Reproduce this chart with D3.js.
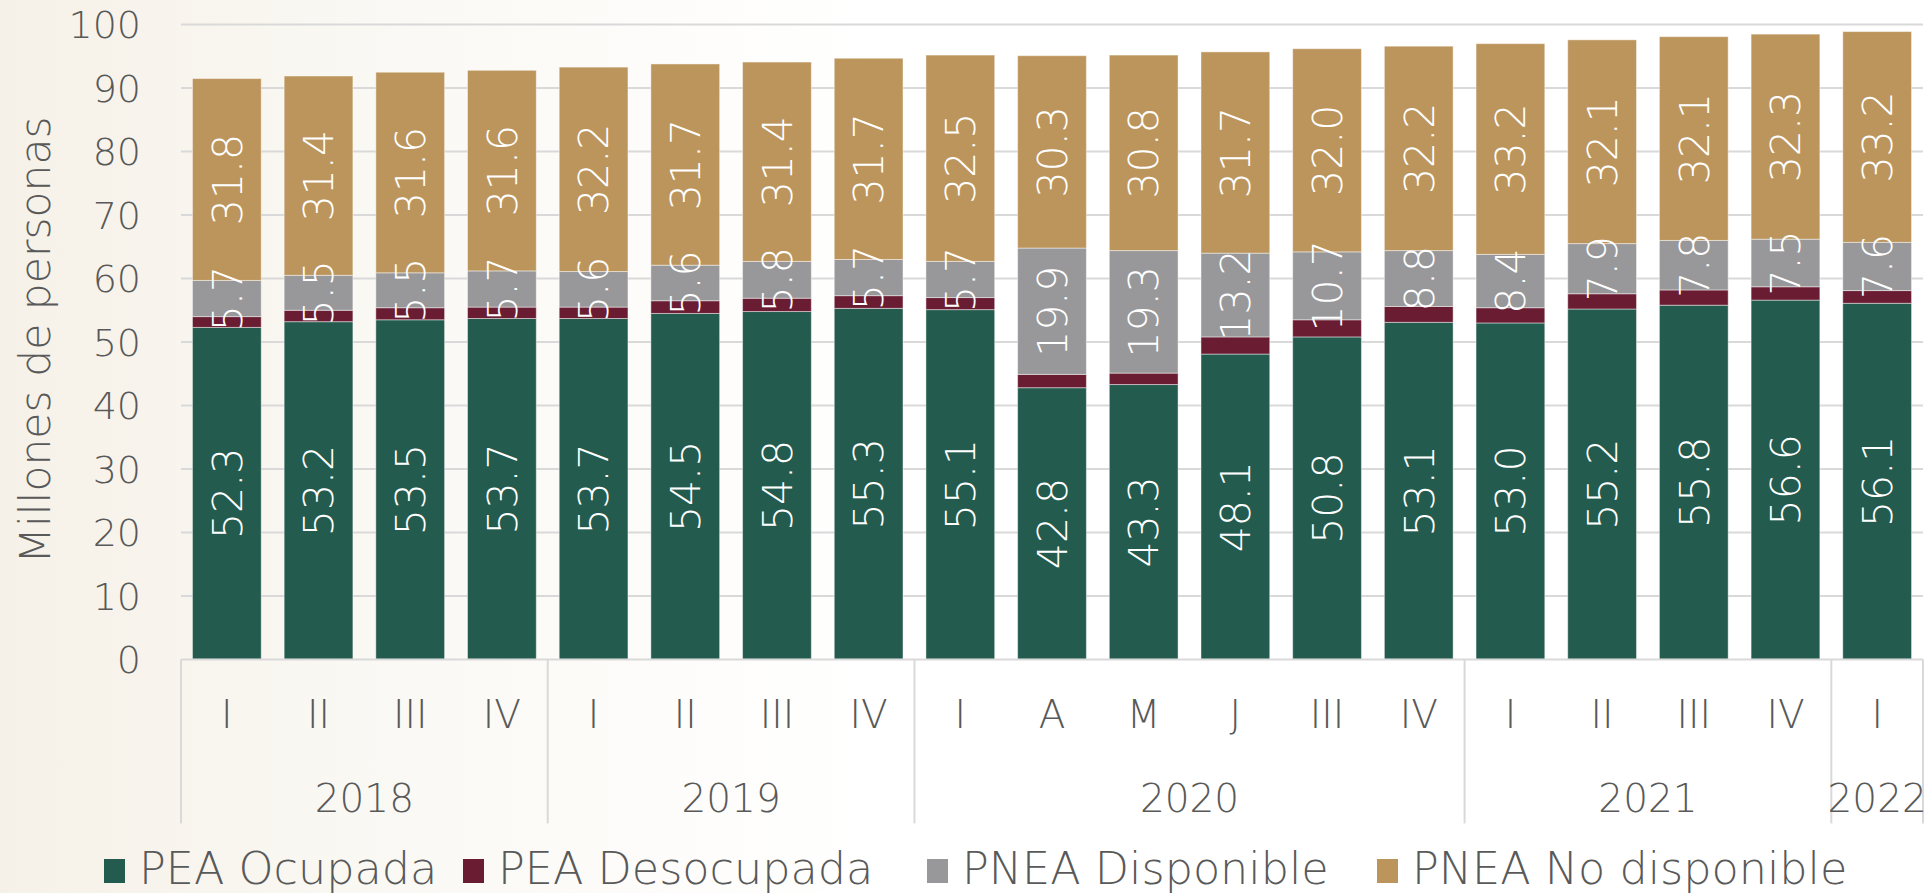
<!DOCTYPE html>
<html>
<head>
<meta charset="utf-8">
<script src="https://cdnjs.cloudflare.com/ajax/libs/d3/7.8.5/d3.min.js"></script>
<style>
    html, body { margin: 0; padding: 0; }
    body {
        width: 1929px; height: 893px; overflow: hidden;
        background: linear-gradient(90deg, #f6f1e8 0%, #faf8f3 18%, #ffffff 45%, #ffffff 100%);
        font-family: "DejaVu Sans", sans-serif;
    }
    .grid line { stroke: #d9d9d9; stroke-width: 2; }
    .tick-label { fill: #595959; font-weight: 300; }
    .bar-label { fill: #ffffff; font-weight: 300; }
    .sep-line { stroke: #d9d9d9; stroke-width: 2; }
</style>
</head>
<body>
<div id="chart"></div>
<script>

// Categories (quarters / months) and year groups
var periods = ["I","II","III","IV","I","II","III","IV","I","A","M","J","III","IV","I","II","III","IV","I"];
var years = ["2018","2019","2020","2021","2022"];
var yearCounts = [4, 4, 6, 4, 1];

// Series values, millions of people
var ocupada = [52.3,53.2,53.5,53.7,53.7,54.5,54.8,55.3,55.1,42.8,43.3,48.1,50.8,53.1,53.0,55.2,55.8,56.6,56.1];
var desocupada = [1.7,1.8,1.9,1.8,1.8,2.0,2.1,2.0,1.9,2.1,1.8,2.7,2.7,2.5,2.4,2.4,2.4,2.1,2.0];
var disponible = [5.7,5.5,5.5,5.7,5.6,5.6,5.8,5.7,5.7,19.9,19.3,13.2,10.7,8.8,8.4,7.9,7.8,7.5,7.6];
var noDisponible = [31.8,31.4,31.6,31.6,32.2,31.7,31.4,31.7,32.5,30.3,30.8,31.7,32.0,32.2,33.2,32.1,32.1,32.3,33.2];

var seriesNames = ["PEA Ocupada", "PEA Desocupada", "PNEA Disponible", "PNEA No disponible"];
var yTicks = [0,10,20,30,40,50,60,70,80,90,100];


StackedChart = function(_parentElement) {
    this.parentElement = _parentElement;
    this.keys = ["ocupada", "desocupada", "disponible", "noDisponible"];
    this.colors = ["#235b4e", "#691c32", "#98989a", "#bc955c"];
    this.labelled = [true, false, true, true];
    this.initVis();
};


StackedChart.prototype.initVis = function() {
    var vis = this;

    vis.margin = {top: 24.6, right: 6, bottom: 233.6, left: 181};
    vis.width = 1929 - vis.margin.left - vis.margin.right;
    vis.height = 893 - vis.margin.top - vis.margin.bottom;

    vis.svg = d3.select("#" + vis.parentElement).append("svg")
        .attr("width", 1929)
        .attr("height", 893)
        .append("g")
        .attr("transform", "translate(" + vis.margin.left + "," + vis.margin.top + ")");

    vis.x = d3.scaleBand()
        .domain(d3.range(periods.length))
        .range([0, vis.width])
        .paddingInner(0.25)
        .paddingOuter(0.125);
    vis.y = d3.scaleLinear()
        .domain([0, 100])
        .range([vis.height, 0]);

    vis.wrangleData();
};


StackedChart.prototype.wrangleData = function() {
    var vis = this;

    // build a table from the named arrays
    vis.data = periods.map(function(p, i) {
        return {
            i: i,
            ocupada: ocupada[i],
            desocupada: desocupada[i],
            disponible: disponible[i],
            noDisponible: noDisponible[i]
        };
    });

    vis.stacked = d3.stack().keys(vis.keys)(vis.data);

    vis.updateVis();
};


StackedChart.prototype.updateVis = function() {
    var vis = this;

    // gridlines
    vis.svg.append("g")
        .attr("class", "grid")
        .selectAll("line")
        .data(yTicks.slice(1))
        .enter().append("line")
        .attr("x1", 0)
        .attr("x2", vis.width)
        .attr("y1", function(d) { return vis.y(d); })
        .attr("y2", function(d) { return vis.y(d); });

    // y tick labels
    vis.svg.append("g").selectAll("text")
        .data(yTicks)
        .enter().append("text")
        .attr("class", "tick-label")
        .attr("x", -40)
        .attr("y", function(d) { return vis.y(d); })
        .attr("dy", "0.36em")
        .attr("text-anchor", "end")
        .style("font-size", "38px")
        .text(function(d) { return d; });

    // y axis title
    vis.svg.append("text")
        .attr("class", "tick-label")
        .attr("transform", "translate(" + (50 - vis.margin.left) + "," + (340 - vis.margin.top) + ") rotate(-90)")
        .attr("text-anchor", "middle")
        .style("font-size", "42.5px")
        .text("Millones de personas");

    // bars
    var layers = vis.svg.selectAll(".layer")
        .data(vis.stacked)
        .enter().append("g")
        .attr("class", "layer")
        .attr("fill", function(d, k) { return vis.colors[k]; });

    layers.selectAll("rect")
        .data(function(d) { return d; })
        .enter().append("rect")
        .attr("x", function(d) { return vis.x(d.data.i); })
        .attr("y", function(d) { return vis.y(d[1]); })
        .attr("width", vis.x.bandwidth())
        .attr("height", function(d) { return vis.y(d[0]) - vis.y(d[1]); })
        .attr("stroke", "#ffffff")
        .attr("stroke-opacity", 0.45)
        .attr("stroke-width", 1);

    // data labels (rotated, centred in each segment)
    vis.stacked.forEach(function(layer, k) {
        if (!vis.labelled[k]) return;
        vis.svg.append("g").selectAll("text")
            .data(layer)
            .enter().append("text")
            .attr("class", "bar-label")
            .attr("transform", function(d) {
                var cx = vis.x(d.data.i) + vis.x.bandwidth() / 2;
                var cy = vis.y((d[0] + d[1]) / 2);
                return "translate(" + cx + "," + cy + ") rotate(-90)";
            })
            .attr("text-anchor", "middle")
            .attr("dy", "0.36em")
            .style("font-size", "41px")
            .text(function(d) { return d3.format(".1f")(d[1] - d[0]); });
    });

    // x axis line
    vis.svg.append("line")
        .attr("class", "sep-line")
        .attr("x1", 0).attr("x2", vis.width)
        .attr("y1", vis.height).attr("y2", vis.height);

    // period labels
    vis.svg.append("g").selectAll("text")
        .data(periods)
        .enter().append("text")
        .attr("class", "tick-label")
        .attr("x", function(d, i) { return vis.x(i) + vis.x.bandwidth() / 2; })
        .attr("y", vis.height + 69)
        .attr("text-anchor", "middle")
        .style("font-size", "39px")
        .text(function(d) { return d; });

    // year groups and separators
    var starts = [0];
    yearCounts.forEach(function(c, j) { starts.push(starts[j] + c); });
    var step = vis.x.step();
    var edge = function(n) { return n * step; };

    vis.svg.append("g").selectAll("line")
        .data(starts)
        .enter().append("line")
        .attr("class", "sep-line")
        .attr("x1", function(d) { return edge(d); })
        .attr("x2", function(d) { return edge(d); })
        .attr("y1", vis.height)
        .attr("y2", vis.height + 164);

    vis.svg.append("g").selectAll("text")
        .data(years)
        .enter().append("text")
        .attr("class", "tick-label")
        .attr("x", function(d, j) { return (edge(starts[j]) + edge(starts[j + 1])) / 2; })
        .attr("y", vis.height + 152.5)
        .attr("text-anchor", "middle")
        .style("font-size", "39px")
        .text(function(d) { return d; });

    // legend
    var legendX = [104, 463, 927, 1377];
    var legend = d3.select("#" + vis.parentElement).select("svg").append("g")
        .selectAll("g")
        .data(seriesNames)
        .enter().append("g")
        .attr("transform", function(d, k) { return "translate(" + legendX[k] + ",859)"; });
    legend.append("rect")
        .attr("width", 21)
        .attr("height", 24)
        .attr("fill", function(d, k) { return vis.colors[k]; });
    legend.append("text")
        .attr("class", "tick-label")
        .attr("x", 35)
        .attr("y", 24.5)
        .style("font-size", "44.5px")
        .text(function(d) { return d; });
};

var chart = new StackedChart("chart");
</script>
</body>
</html>
